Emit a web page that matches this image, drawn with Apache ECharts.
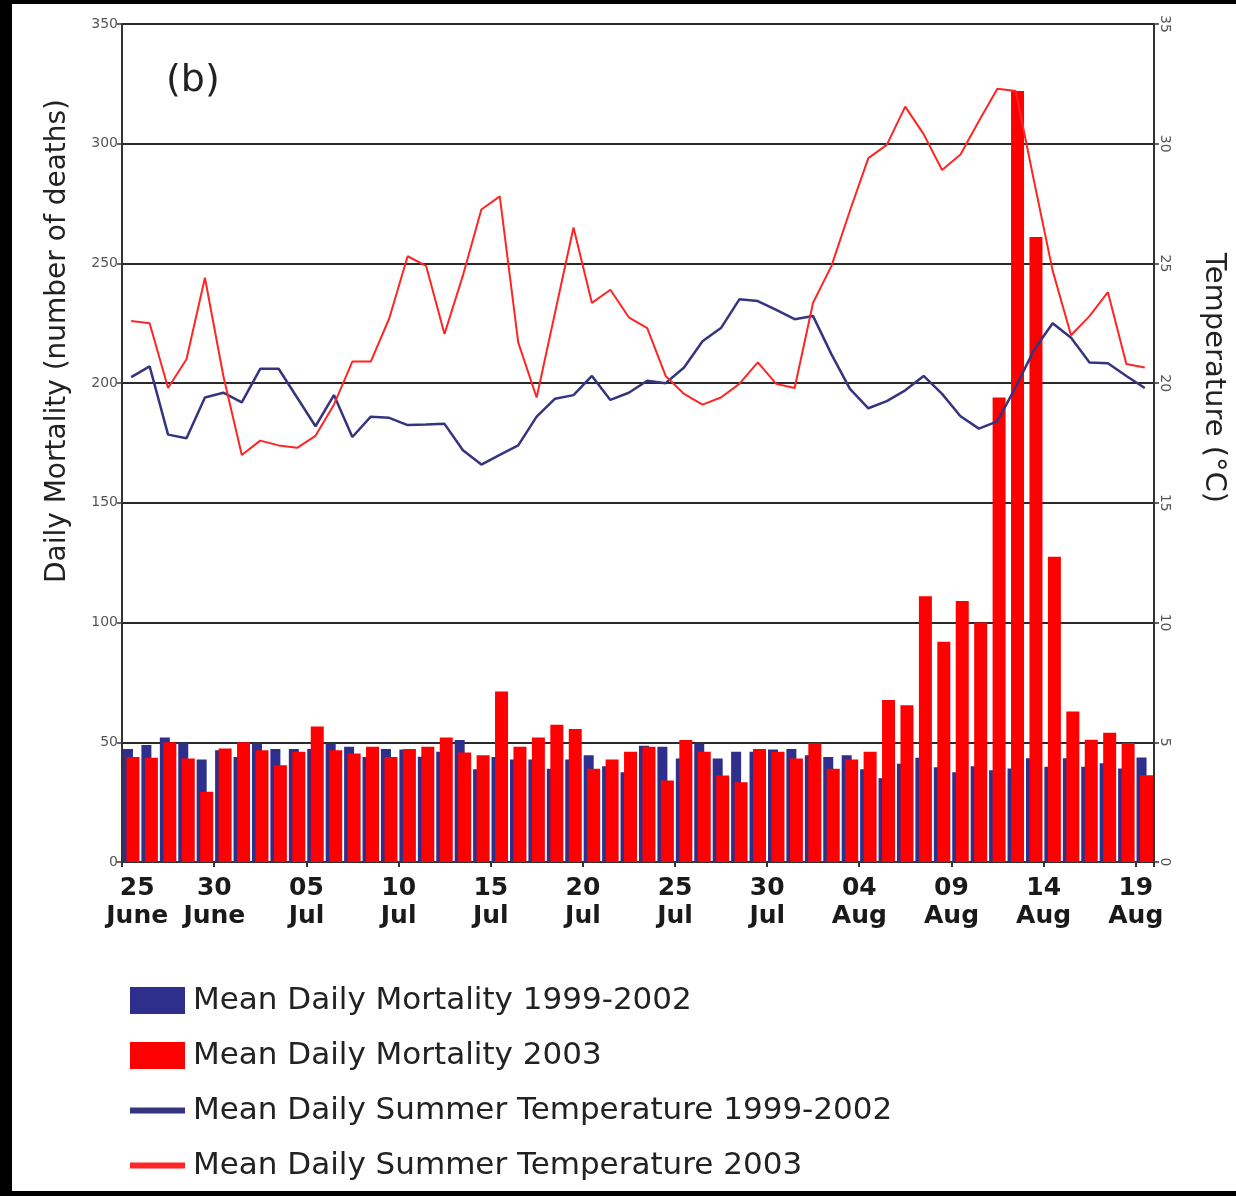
<!DOCTYPE html>
<html>
<head>
<meta charset="utf-8">
<script src="https://cdn.jsdelivr.net/npm/echarts@6/dist/echarts.min.js"></script>
<style>
html,body{margin:0;padding:0;background:#000;width:1236px;height:1196px;overflow:hidden;}
#frame{position:absolute;left:12px;top:4px;right:0;bottom:5px;background:#fff;}
#chart{position:absolute;left:0;top:0;width:1236px;height:1196px;}
</style>
</head>
<body>
<div id="frame"></div>
<div id="chart"></div>
<script>
// ---- data ----
const categories = [
  '25 June','26 June','27 June','28 June','29 June','30 June',
  '01 Jul','02 Jul','03 Jul','04 Jul','05 Jul','06 Jul','07 Jul','08 Jul','09 Jul','10 Jul',
  '11 Jul','12 Jul','13 Jul','14 Jul','15 Jul','16 Jul','17 Jul','18 Jul','19 Jul','20 Jul',
  '21 Jul','22 Jul','23 Jul','24 Jul','25 Jul','26 Jul','27 Jul','28 Jul','29 Jul','30 Jul','31 Jul',
  '01 Aug','02 Aug','03 Aug','04 Aug','05 Aug','06 Aug','07 Aug','08 Aug','09 Aug','10 Aug',
  '11 Aug','12 Aug','13 Aug','14 Aug','15 Aug','16 Aug','17 Aug','18 Aug','19 Aug'
];
const tickDays = ['25 June','30 June','05 Jul','10 Jul','15 Jul','20 Jul','25 Jul','30 Jul','04 Aug','09 Aug','14 Aug','19 Aug'];

const mortality19992002 = [
  47.2, 48.9, 52.0, 49.8, 42.8, 46.7, 43.9, 49.6, 47.2, 47.2,
  47.2, 49.6, 48.1, 43.9, 47.2, 47.0, 44.0, 46.0, 51.0, 38.7,
  43.9, 42.8, 42.8, 38.9, 42.8, 44.6, 40.0, 37.5, 48.6, 48.1,
  43.2, 49.6, 43.2, 46.0, 46.0, 47.0, 47.2, 44.6, 43.9, 44.6,
  38.7, 35.0, 41.0, 43.5, 39.6, 37.5, 40.0, 38.3, 39.0, 43.3,
  39.8, 43.3, 39.8, 41.2, 39.0, 43.6
];
const mortality2003 = [
  43.9, 43.5, 50.0, 43.2, 29.3, 47.4, 50.0, 46.7, 40.4, 46.0,
  56.6, 46.7, 45.3, 48.1, 43.9, 47.2, 48.1, 52.0, 45.7, 44.6,
  71.2, 48.1, 52.0, 57.3, 55.6, 38.9, 42.8, 46.0, 48.1, 34.0,
  51.0, 46.0, 36.1, 33.3, 47.2, 46.0, 43.2, 49.6, 38.9, 42.8,
  46.0, 67.7, 65.5, 111.0, 92.0, 109.0, 100.0, 194.0, 322.0, 261.0,
  127.5, 62.9, 51.1, 54.0, 49.7, 36.2
];
const temperature19992002 = [
  20.25, 20.7, 17.85, 17.7, 19.4, 19.6, 19.2, 20.6, 20.6, 19.4,
  18.2, 19.5, 17.75, 18.6, 18.55, 18.25, 18.27, 18.3, 17.2, 16.6,
  17.0, 17.4, 18.6, 19.35, 19.5, 20.3, 19.3, 19.6, 20.1, 20.0,
  20.65, 21.75, 22.3, 23.5, 23.43, 23.06, 22.67, 22.8, 21.2, 19.76,
  18.95, 19.25, 19.7, 20.3, 19.55, 18.62, 18.1, 18.4, 19.85, 21.4,
  22.5, 21.9, 20.86, 20.83, 20.3, 19.8
];
const temperature2003 = [
  22.6, 22.5, 19.8, 21.0, 24.4, 20.3, 17.0, 17.6, 17.4, 17.3,
  17.8, 19.1, 20.9, 20.9, 22.7, 25.3, 24.9, 22.05, 24.5, 27.25,
  27.8, 21.7, 19.4, 22.95, 26.5, 23.35, 23.9, 22.75, 22.3, 20.3,
  19.55, 19.1, 19.4, 19.97, 20.87, 19.97, 19.8, 23.36, 24.9, 27.2,
  29.4, 29.95, 31.55, 30.4, 28.9, 29.55, 30.95, 32.3, 32.2, 28.4,
  24.7, 22.0, 22.8, 23.8, 20.8, 20.65
];
const seriesNames = [
  'Mean Daily Mortality 1999-2002',
  'Mean Daily Mortality 2003',
  'Mean Daily Summer Temperature 1999-2002',
  'Mean Daily Summer Temperature 2003'
];
const panelLabel = '(b)';
const leftTitle = 'Daily Mortality (number of deaths)';
const rightTitle = 'Temperature (°C)';

// ---- chart ----
const FONT = '"DejaVu Sans", sans-serif';
const BLUE_BAR = '#2e2e8c';
const RED_BAR = '#ff0000';
const BLUE_LINE = '#35357f';
const RED_LINE = '#ff2525';
const isTick = (idx, value) => tickDays.indexOf(value) >= 0;
const tickFormatter = (v) => {
  const parts = v.split(' ');
  const key = (v === tickDays[0]) ? 'first' : 'n';
  return '{' + key + '|' + parts[0] + '}\n{' + key + '|' + parts[1] + '}';
};
const labelFont = {fontSize: 25, fontWeight: 'bold', color: '#1a1a1a', lineHeight: 28, fontFamily: FONT};

const chart = echarts.init(document.getElementById('chart'), null, {renderer: 'canvas'});
chart.setOption({
  animation: false,
  textStyle: {fontFamily: FONT},
  title: {
    text: panelLabel, left: 166, top: 62, padding: 0,
    textStyle: {fontSize: 38, fontWeight: 'normal', color: '#222', fontFamily: FONT}
  },
  grid: {left: 122, right: 79, top: 24, bottom: 334, containLabel: false},
  legend: {
    orient: 'vertical', left: 130, top: 985, padding: 0,
    itemWidth: 55, itemHeight: 27, itemGap: 24, selectedMode: false,
    textStyle: {fontSize: 31, lineHeight: 27, color: '#222', fontFamily: FONT, padding: [0, 0, 0, 3]},
    data: [
      {name: seriesNames[0], icon: 'rect'},
      {name: seriesNames[1], icon: 'rect'},
      {name: seriesNames[2], icon: 'path://M0,0H55V6H0Z'},
      {name: seriesNames[3], icon: 'path://M0,0H55V6H0Z'}
    ]
  },
  xAxis: {
    type: 'category', data: categories, boundaryGap: true,
    axisLine: {show: true, onZero: false, lineStyle: {color: '#333', width: 2}},
    axisTick: {show: true, interval: isTick, length: 5, lineStyle: {color: '#333', width: 2}},
    axisLabel: Object.assign({
      interval: isTick, formatter: tickFormatter, showMinLabel: true, showMaxLabel: true,
      hideOverlap: false, margin: 12,
      rich: {
        n: Object.assign({padding: [0, 18, 0, 0]}, labelFont),
        first: Object.assign({padding: [0, 0, 0, 12]}, labelFont)
      }
    }, labelFont),
    splitLine: {show: false}
  },
  yAxis: [
    {
      type: 'value', min: 0, max: 350, interval: 50, position: 'left',
      name: leftTitle, nameLocation: 'middle', nameRotate: 90, nameGap: 50,
      nameTextStyle: {fontSize: 28, color: '#222', fontFamily: FONT, padding: [0, 0, 0, 204]},
      axisLine: {show: true, lineStyle: {color: '#333', width: 2}},
      axisTick: {show: true, length: 5, lineStyle: {color: '#333', width: 1.5}},
      axisLabel: {fontSize: 14, color: '#555', margin: 4, fontFamily: FONT},
      splitLine: {show: true, lineStyle: {color: '#2a2a2a', width: 2}}
    },
    {
      type: 'value', min: 0, max: 35, interval: 5, position: 'right',
      name: rightTitle, nameLocation: 'middle', nameRotate: -90, nameGap: 45,
      nameTextStyle: {fontSize: 29, color: '#222', fontFamily: FONT, padding: [0, 130, 0, 0]},
      axisLine: {show: true, lineStyle: {color: '#333', width: 2}},
      axisTick: {show: true, length: 5, lineStyle: {color: '#333', width: 1.5}},
      axisLabel: {rotate: -90, fontSize: 14, color: '#555', margin: 4, fontFamily: FONT},
      splitLine: {show: false}
    }
  ],
  series: [
    {name: seriesNames[0], type: 'bar', data: mortality19992002, barWidth: 10, barGap: '-65%',
     itemStyle: {color: BLUE_BAR}},
    {name: seriesNames[1], type: 'bar', data: mortality2003, barWidth: 13, barGap: '-65%',
     itemStyle: {color: RED_BAR}},
    {name: seriesNames[2], type: 'line', yAxisIndex: 1, data: temperature19992002,
     symbol: 'none', showSymbol: false, lineStyle: {color: BLUE_LINE, width: 2.5},
     itemStyle: {color: BLUE_LINE}, z: 3},
    {name: seriesNames[3], type: 'line', yAxisIndex: 1, data: temperature2003,
     symbol: 'none', showSymbol: false, lineStyle: {color: RED_LINE, width: 2},
     itemStyle: {color: RED_LINE}, z: 3}
  ]
});
</script>
</body>
</html>
